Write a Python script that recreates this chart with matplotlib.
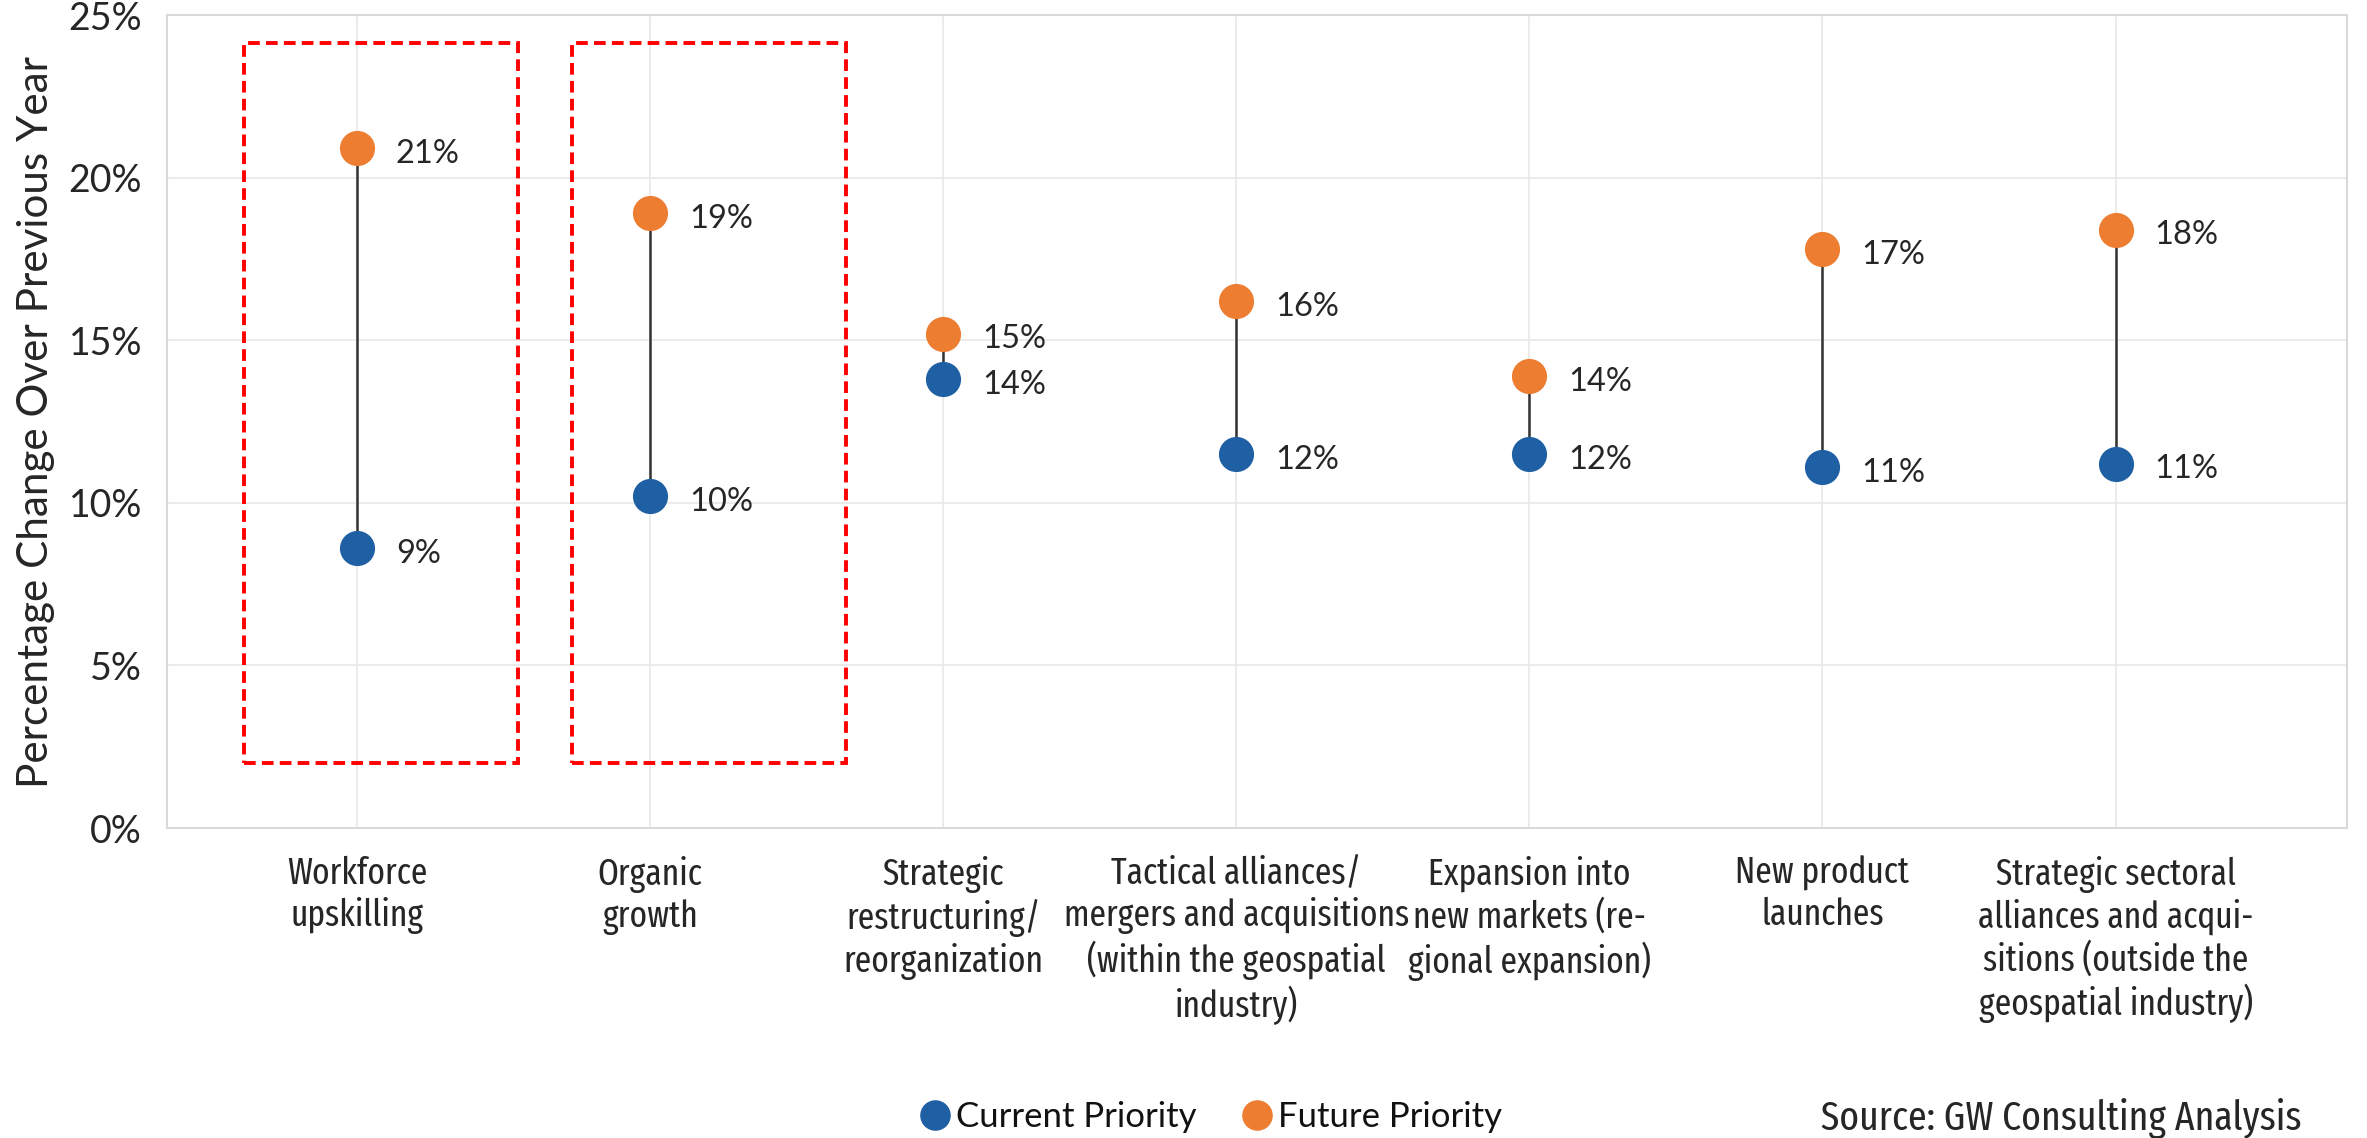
import matplotlib
matplotlib.use("Agg")
import matplotlib.pyplot as plt
from matplotlib.lines import Line2D
from matplotlib.patches import Rectangle
from matplotlib import font_manager as fm
from matplotlib.font_manager import FontProperties
import numpy as np

categories = [
    "Workforce\nupskilling",
    "Organic\ngrowth",
    "Strategic\nrestructuring/\nreorganization",
    "Tactical alliances/\nmergers and acquisitions\n(within the geospatial\nindustry)",
    "Expansion into\nnew markets (re-\ngional expansion)",
    "New product\nlaunches",
    "Strategic sectoral\nalliances and acqui-\nsitions (outside the\ngeospatial industry)",
]
current = [8.6, 10.2, 13.8, 11.5, 11.5, 11.1, 11.2]
future = [20.9, 18.9, 15.2, 16.2, 13.9, 17.8, 18.4]
current_labels = ["9%", "10%", "14%", "12%", "12%", "11%", "11%"]
future_labels = ["21%", "19%", "15%", "16%", "14%", "17%", "18%"]
yticks = [0, 5, 10, 15, 20, 25]
highlight_idx = [0, 1]


def pick_condensed():
    best, best_score = None, -1
    for f in fm.fontManager.ttflist:
        name = f.name
        fn = f.fname.lower()
        flat = fn.replace("-", "").replace("_", "")
        stretch = str(f.stretch).lower()
        if "semicondensed" in flat or stretch == "semi-condensed":
            score = 1
        elif "extracondensed" in flat or stretch == "extra-condensed":
            score = 3
        elif ("condensed" in fn or "narrow" in fn or "Condensed" in name
              or "Narrow" in name or stretch == "condensed"):
            score = 2
        else:
            continue
        if f.style != "normal" or "italic" in fn:
            continue
        if "cjk" in fn or "mono" in fn:
            continue
        w = f.weight if isinstance(f.weight, int) else 400
        if w == 400:
            score += 0.5
        elif w == 300:
            score += 0.4
        else:
            continue
        if score > best_score:
            best, best_score = f.fname, score
    if best:
        return FontProperties(fname=best)
    return FontProperties(family="DejaVu Sans")


COND = pick_condensed()
gothic = "Lato"

BLUE = "#1F5FA3"
ORANGE = "#ED7D31"
TXT = "#262626"

fig = plt.figure(figsize=(23.67, 11.38), dpi=100)
ax = fig.add_axes([0.0706, 0.2724, 0.9210, 0.7144])

x = np.arange(len(categories))
ax.vlines(x, current, future, color="#333333", lw=1.8, zorder=2)
ax.scatter(x, current, s=640, color=BLUE, zorder=3, linewidths=0)
ax.scatter(x, future, s=640, color=ORANGE, zorder=3, linewidths=0)

for vals, labs in ((current, current_labels), (future, future_labels)):
    for xi, v, t in zip(x, vals, labs):
        ax.annotate(t, (xi, v), xytext=(28, -4), textcoords="offset points",
                    ha="left", va="center", fontsize=23.5, color=TXT, family=gothic)

rect_left_offsets = [-0.385, -0.265]
for i, off in zip(highlight_idx, rect_left_offsets):
    ax.add_patch(Rectangle((i + off, 2.0), 0.935, 22.15, fill=False,
                           edgecolor="#FF0000", lw=2.8, ls=(0, (3, 1.6)), zorder=4))

ax.set_xlim(-0.648, 6.79)
ax.set_ylim(0, 25)
ax.set_yticks(yticks)
ax.set_yticklabels([f"{v}%" for v in yticks], fontsize=27, color=TXT, family=gothic)
ax.set_xticks(x)
xt = ax.set_xticklabels(categories, color=TXT, linespacing=1.2, va="top")
ax.tick_params(axis="both", length=0)
ax.tick_params(axis="x", pad=20)
ax.tick_params(axis="y", pad=18)
ax.grid(True, color="#E8E8E8", lw=1.2)
ax.set_axisbelow(True)
for s in ax.spines.values():
    s.set_color("#D9D9D9")
    s.set_linewidth(1.5)

renderer = fig.canvas.get_renderer()


def width_px(text, **kw):
    p = fig.text(0, 0, text, **kw)
    w = p.get_window_extent(renderer).width
    p.remove()
    return w


# size condensed category labels so "Workforce" is about 140 px wide
csize = min(31.0, 30 * 140.0 / width_px("Workforce", fontproperties=COND, fontsize=30))
for t in xt:
    t.set_fontproperties(COND)
    t.set_fontsize(csize)

ylab = ax.set_ylabel("Percentage Change Over Previous Year", fontsize=24, color=TXT,
                     family=gothic, labelpad=10)
lpx = width_px("Percentage Change Over Previous Year", family=gothic, fontsize=24)
ylab.set_fontsize(min(31.0, 24 * 733.0 / lpx))

handles = [
    Line2D([], [], marker="o", ls="", color=BLUE, markersize=21, label="Current Priority"),
    Line2D([], [], marker="o", ls="", color=ORANGE, markersize=21, label="Future Priority"),
]
fig.legend(handles=handles, loc="center", bbox_to_anchor=(0.5115, 0.0185), ncol=2,
           frameon=False, prop={"family": "Lato", "size": 25}, handletextpad=0.15,
           columnspacing=1.3, handlelength=0.9, labelcolor="#111111",
           borderpad=0.1)
src_text = "Source: GW Consulting Analysis"
ssize = min(30.0, 24 * 478.0 / width_px(src_text, fontproperties=COND, fontsize=24))
src = fig.text(0.9725, 0.0175, src_text, ha="right", va="center",
               color=TXT, fontproperties=COND)
src.set_fontsize(ssize)

fig.savefig("out.png", dpi=100)
